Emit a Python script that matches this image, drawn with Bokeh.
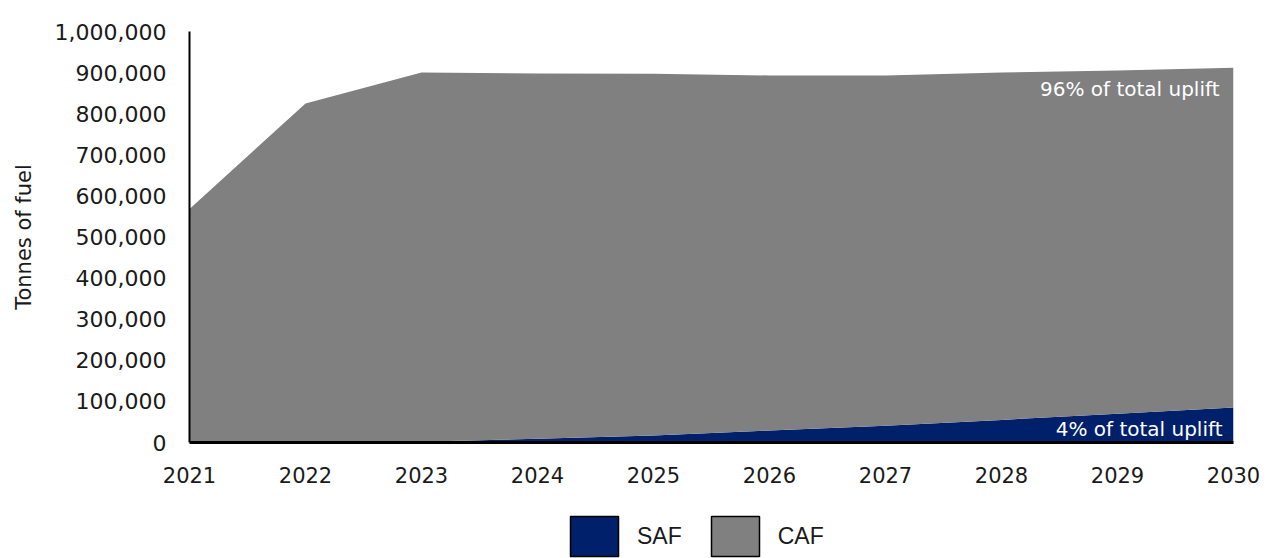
from bokeh.plotting import figure
from bokeh.layouts import column
from bokeh.models import ColumnDataSource, Range1d, Legend, LegendItem, Label, NumeralTickFormatter, FixedTicker
from bokeh.embed import file_html
from bokeh.resources import INLINE

years = [2021, 2022, 2023, 2024, 2025, 2026, 2027, 2028, 2029, 2030]
saf = [0, 0, 2000, 9000, 17000, 29000, 41000, 55000, 70000, 85000]
total = [568000, 825000, 900000, 898000, 897000, 893000, 893000, 900000, 905000, 912000]
caf = [t - s for t, s in zip(total, saf)]
y_ticks = [0, 100000, 200000, 300000, 400000, 500000, 600000, 700000, 800000, 900000, 1000000]
series = ["SAF", "CAF"]

NAVY = "#00206B"
GREY = "#808080"

src = ColumnDataSource(dict(year=years, SAF=saf, CAF=caf))

p = figure(width=1268, height=500, output_backend="svg", toolbar_location=None,
           x_range=Range1d(2021, 2030), y_range=Range1d(0, 1000000),
           min_border_left=189, min_border_right=35, min_border_top=31, min_border_bottom=58)
p.outline_line_color = None
p.background_fill_color = "white"
p.border_fill_color = "white"
p.xgrid.visible = False
p.ygrid.visible = False

rs = p.varea_stack(stackers=series, x="year", color=[NAVY, GREY], source=src)

# axes
p.yaxis.ticker = FixedTicker(ticks=y_ticks)
p.yaxis.formatter = NumeralTickFormatter(format="0,0")
p.xaxis.ticker = FixedTicker(ticks=years)
for ax in (p.xaxis, p.yaxis):
    ax.major_tick_line_color = None
    ax.minor_tick_line_color = None
    ax.axis_line_color = "black"
    ax.major_label_text_font = "DejaVu Sans"
    ax.major_label_text_color = "#1a1a1a"
p.yaxis.major_label_text_font_size = "22px"
p.xaxis.major_label_text_font_size = "21px"
p.yaxis.axis_line_width = 2
p.xaxis.axis_line_width = 3
p.yaxis.major_label_standoff = 17
p.xaxis.major_label_standoff = 18
p.yaxis.axis_label = "Tonnes of fuel"
p.yaxis.axis_label_text_font = "DejaVu Sans"
p.yaxis.axis_label_text_font_size = "21px"
p.yaxis.axis_label_text_font_style = "normal"
p.yaxis.axis_label_text_color = "#1a1a1a"
p.yaxis.axis_label_standoff = 16

# annotations
p.add_layout(Label(x=2030, y=860000, x_offset=-14, text="96% of total uplift",
                   text_align="right", text_baseline="middle", text_color="white",
                   text_font="DejaVu Sans", text_font_size="20px"))
p.add_layout(Label(x=2030, y=34000, x_offset=-11, text="4% of total uplift",
                   text_align="right", text_baseline="middle", text_color="white",
                   text_font="DejaVu Sans", text_font_size="20px"))

# legend strip below the chart
lf = figure(width=1268, height=58, output_backend="svg", toolbar_location=None,
            x_range=Range1d(0, 1), y_range=Range1d(0, 1),
            x_axis_location=None, y_axis_location=None,
            min_border_left=0, min_border_right=0, min_border_top=0, min_border_bottom=0)
lf.outline_line_color = None
lf.xgrid.visible = False
lf.ygrid.visible = False
nan = float("nan")
saf_proxy = lf.rect(x=[nan], y=[nan], width=1, height=1, fill_color=NAVY, line_color="black", line_width=1.5)
caf_proxy = lf.rect(x=[nan], y=[nan], width=1, height=1, fill_color=GREY, line_color="black", line_width=1.5)
legend = Legend(items=[LegendItem(label=series[0], renderers=[saf_proxy]),
                       LegendItem(label=series[1], renderers=[caf_proxy])],
                orientation="horizontal", location=(375, -3),
                glyph_width=60, glyph_height=50, label_standoff=13, spacing=23,
                padding=0, margin=0, border_line_color=None, background_fill_alpha=0,
                label_text_font="Liberation Sans", label_text_font_size="23px",
                label_text_color="#1a1a1a")
lf.add_layout(legend, "center")

layout = column(p, lf, spacing=0)
open("out.html", "w").write(file_html(layout, INLINE))
